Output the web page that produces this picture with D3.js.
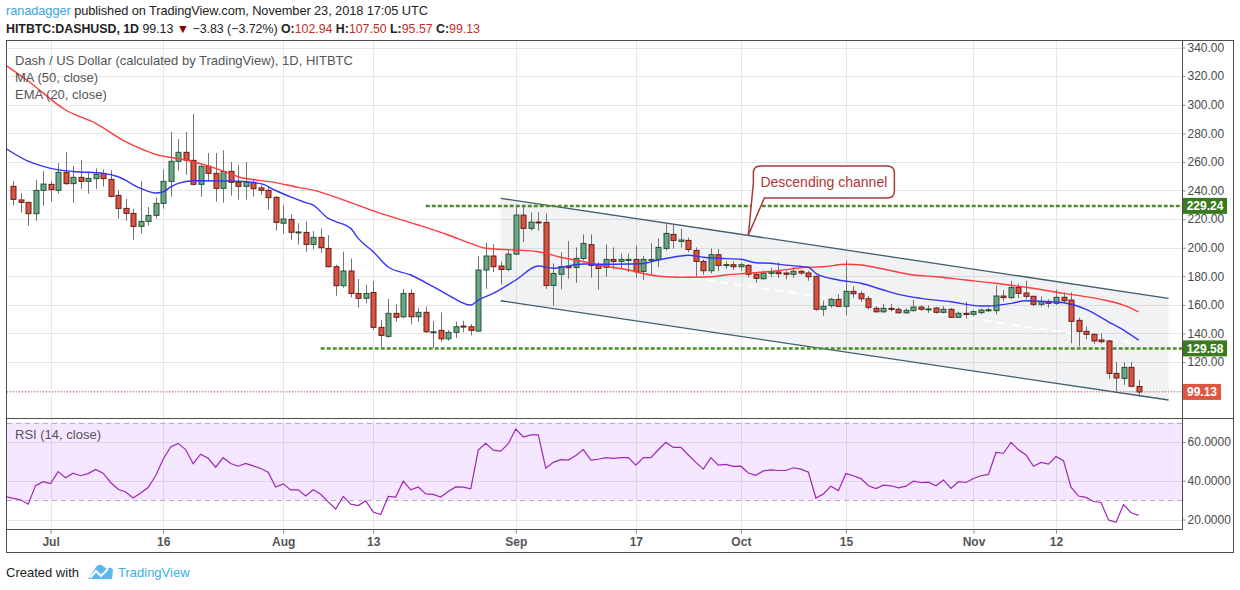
<!DOCTYPE html>
<html>
<head>
<meta charset="utf-8">
<script src="https://cdn.jsdelivr.net/npm/d3@7"></script>
<style>
  body { margin: 0; background: #fff; }
  svg { display: block; font-family: "Liberation Sans", Arial, sans-serif; }
</style>
</head>
<body>
<svg id="chart" width="1240" height="590"></svg>
<script>
// date, open, high, low, close
const candles = [
  ["2018-06-26", 242.9, 246.6, 229.4, 233.8], ["2018-06-27", 233.4, 238.3, 224.5, 231.7],
  ["2018-06-28", 231.7, 231.9, 215.4, 223.8], ["2018-06-29", 223.8, 247.3, 218.9, 240.1],
  ["2018-06-30", 240.1, 253.6, 229.4, 244.5], ["2018-07-01", 244.3, 246.6, 232.2, 240.6],
  ["2018-07-02", 240.1, 259.2, 237.8, 252.7], ["2018-07-03", 252.7, 266.9, 243.9, 244.8],
  ["2018-07-04", 244.8, 257.1, 231.5, 249.2], ["2018-07-05", 249.2, 261.3, 241.1, 246.4],
  ["2018-07-06", 246.4, 253.2, 237.8, 248.5], ["2018-07-07", 248.3, 255.5, 241.1, 251.3],
  ["2018-07-08", 252.0, 254.8, 242.7, 248.3], ["2018-07-09", 247.8, 254.1, 235.2, 235.9],
  ["2018-07-10", 236.6, 240.1, 220.3, 227.5], ["2018-07-11", 227.5, 234.1, 218.9, 224.0],
  ["2018-07-12", 224.0, 227.1, 205.6, 214.9], ["2018-07-13", 214.9, 246.6, 209.8, 218.4],
  ["2018-07-14", 218.4, 228.5, 215.4, 222.6], ["2018-07-15", 222.6, 235.2, 220.3, 231.0],
  ["2018-07-16", 231.0, 254.8, 227.3, 246.4], ["2018-07-17", 246.4, 280.9, 235.7, 260.4],
  ["2018-07-18", 260.4, 276.0, 253.9, 266.7], ["2018-07-19", 266.7, 280.9, 251.1, 261.1],
  ["2018-07-20", 261.1, 293.5, 243.4, 244.3], ["2018-07-21", 244.3, 257.8, 235.7, 256.9],
  ["2018-07-22", 256.9, 266.2, 246.4, 252.0], ["2018-07-23", 252.0, 266.2, 232.2, 241.5],
  ["2018-07-24", 241.5, 268.1, 231.5, 253.4], ["2018-07-25", 253.4, 259.9, 236.4, 245.7],
  ["2018-07-26", 245.7, 257.8, 233.6, 242.9], ["2018-07-27", 242.9, 259.9, 233.6, 246.0],
  ["2018-07-28", 245.7, 248.0, 235.7, 241.3], ["2018-07-29", 241.8, 243.9, 237.1, 240.1],
  ["2018-07-30", 240.1, 243.2, 226.6, 235.0], ["2018-07-31", 235.2, 236.2, 211.9, 217.7],
  ["2018-08-01", 217.1, 229.6, 209.8, 220.1], ["2018-08-02", 219.8, 223.3, 205.6, 210.8],
  ["2018-08-03", 210.8, 217.0, 202.1, 211.0], ["2018-08-04", 210.7, 218.4, 197.2, 202.3],
  ["2018-08-05", 202.3, 211.6, 198.8, 207.2], ["2018-08-06", 207.2, 213.5, 196.5, 200.0],
  ["2018-08-07", 199.5, 208.8, 186.2, 186.7], ["2018-08-08", 186.7, 188.0, 166.4, 173.4],
  ["2018-08-09", 173.4, 197.2, 172.0, 183.7], ["2018-08-10", 183.7, 192.5, 165.3, 168.0],
  ["2018-08-11", 168.0, 178.1, 158.0, 164.6], ["2018-08-12", 164.6, 173.9, 161.1, 168.0],
  ["2018-08-13", 168.7, 176.7, 142.4, 144.3], ["2018-08-14", 144.3, 149.4, 130.7, 138.7],
  ["2018-08-15", 138.0, 164.1, 137.0, 154.1], ["2018-08-16", 154.1, 160.3, 148.2, 151.3],
  ["2018-08-17", 151.7, 171.1, 150.6, 168.0], ["2018-08-18", 168.0, 170.8, 146.4, 151.7],
  ["2018-08-19", 151.7, 158.0, 148.2, 154.8], ["2018-08-20", 154.8, 158.7, 140.5, 141.2],
  ["2018-08-21", 141.0, 148.7, 130.0, 141.2], ["2018-08-22", 142.2, 154.8, 134.2, 136.3],
  ["2018-08-23", 136.3, 142.4, 134.9, 140.8], ["2018-08-24", 140.8, 148.2, 136.8, 144.7],
  ["2018-08-25", 145.2, 148.9, 141.0, 144.5], ["2018-08-26", 144.7, 146.6, 138.7, 142.2],
  ["2018-08-27", 141.7, 194.2, 141.0, 184.4], ["2018-08-28", 184.4, 203.5, 171.3, 194.2],
  ["2018-08-29", 194.2, 202.5, 183.0, 186.7], ["2018-08-30", 187.2, 190.2, 174.3, 184.8],
  ["2018-08-31", 184.8, 198.3, 183.5, 195.5], ["2018-09-01", 195.5, 229.8, 195.0, 222.8],
  ["2018-09-02", 222.8, 229.8, 203.9, 213.5], ["2018-09-03", 213.5, 224.7, 211.9, 217.9],
  ["2018-09-04", 218.0, 224.7, 211.9, 217.5], ["2018-09-05", 217.7, 224.0, 171.3, 173.6],
  ["2018-09-06", 173.6, 189.0, 159.4, 182.0], ["2018-09-07", 181.4, 196.7, 170.9, 186.7],
  ["2018-09-08", 187.0, 204.7, 178.3, 186.0], ["2018-09-09", 186.2, 200.2, 175.5, 192.5],
  ["2018-09-10", 192.5, 209.3, 191.0, 203.0], ["2018-09-11", 202.1, 209.3, 179.0, 187.6],
  ["2018-09-12", 187.6, 189.7, 170.6, 185.5], ["2018-09-13", 186.2, 202.3, 179.5, 191.8],
  ["2018-09-14", 191.8, 200.2, 184.9, 190.4], ["2018-09-15", 190.4, 196.0, 185.5, 191.8],
  ["2018-09-16", 191.1, 196.0, 183.0, 191.8], ["2018-09-17", 191.8, 201.4, 179.0, 183.2],
  ["2018-09-18", 183.4, 194.2, 177.4, 191.8], ["2018-09-19", 191.5, 203.3, 181.1, 191.8],
  ["2018-09-20", 191.8, 206.5, 186.3, 200.2], ["2018-09-21", 199.5, 216.5, 198.0, 210.0],
  ["2018-09-22", 209.3, 215.9, 199.3, 205.1], ["2018-09-23", 204.4, 213.1, 200.0, 205.4],
  ["2018-09-24", 205.1, 207.2, 197.0, 198.8], ["2018-09-25", 198.1, 200.2, 179.0, 190.4],
  ["2018-09-26", 190.4, 191.8, 181.1, 183.9], ["2018-09-27", 183.9, 199.5, 182.0, 195.1],
  ["2018-09-28", 195.1, 199.1, 183.5, 187.6], ["2018-09-29", 187.8, 190.5, 185.0, 188.2],
  ["2018-09-30", 188.1, 190.4, 184.4, 186.7], ["2018-10-01", 186.7, 189.5, 183.9, 188.1],
  ["2018-10-02", 187.6, 188.5, 179.0, 181.4], ["2018-10-03", 181.4, 182.5, 175.5, 178.6],
  ["2018-10-04", 178.3, 183.9, 177.9, 182.3], ["2018-10-05", 182.0, 185.8, 179.3, 183.0],
  ["2018-10-06", 183.0, 189.7, 178.8, 181.8], ["2018-10-07", 182.3, 183.9, 177.9, 181.4],
  ["2018-10-08", 181.4, 186.3, 179.0, 183.5], ["2018-10-09", 183.5, 184.4, 181.0, 182.3],
  ["2018-10-10", 182.3, 183.9, 176.9, 179.7], ["2018-10-11", 180.0, 180.5, 156.0, 156.9],
  ["2018-10-12", 156.9, 163.0, 152.4, 159.0], ["2018-10-13", 159.5, 165.0, 158.0, 163.9],
  ["2018-10-14", 163.9, 167.6, 158.5, 159.0], ["2018-10-15", 159.0, 191.1, 152.7, 169.5],
  ["2018-10-16", 169.5, 173.0, 165.0, 167.8], ["2018-10-17", 167.8, 169.7, 162.0, 164.3],
  ["2018-10-18", 164.3, 166.2, 156.6, 158.3], ["2018-10-19", 157.6, 159.2, 154.5, 155.2],
  ["2018-10-20", 155.2, 160.6, 154.3, 157.6], ["2018-10-21", 157.6, 160.6, 155.5, 156.9],
  ["2018-10-22", 156.9, 158.3, 153.9, 154.5], ["2018-10-23", 154.5, 157.6, 153.6, 156.2],
  ["2018-10-24", 156.0, 163.4, 155.4, 158.5], ["2018-10-25", 158.5, 159.7, 155.8, 156.9],
  ["2018-10-26", 157.0, 159.7, 154.3, 157.2], ["2018-10-27", 157.8, 158.7, 153.9, 154.8],
  ["2018-10-28", 154.8, 159.2, 154.0, 156.9], ["2018-10-29", 156.9, 157.8, 150.8, 151.3],
  ["2018-10-30", 151.3, 155.2, 150.8, 154.1], ["2018-10-31", 154.1, 162.1, 150.4, 153.3],
  ["2018-11-01", 153.4, 156.4, 152.0, 155.3], ["2018-11-02", 154.6, 157.4, 153.5, 156.4],
  ["2018-11-03", 156.3, 158.1, 155.0, 156.6], ["2018-11-04", 156.0, 173.7, 153.4, 166.2],
  ["2018-11-05", 166.2, 170.4, 162.3, 165.1], ["2018-11-06", 165.1, 176.9, 164.0, 172.1],
  ["2018-11-07", 172.1, 174.8, 164.8, 168.1], ["2018-11-08", 168.3, 176.9, 164.0, 166.0],
  ["2018-11-09", 166.0, 166.5, 159.0, 160.4], ["2018-11-10", 160.4, 166.0, 158.8, 162.5],
  ["2018-11-11", 162.5, 163.9, 158.0, 161.1], ["2018-11-12", 161.1, 170.7, 160.0, 165.3],
  ["2018-11-13", 165.3, 168.8, 161.5, 162.9], ["2018-11-14", 163.4, 168.8, 133.1, 148.5],
  ["2018-11-15", 149.2, 151.1, 130.8, 141.5], ["2018-11-16", 141.5, 145.0, 135.9, 139.4],
  ["2018-11-17", 139.4, 140.1, 132.7, 134.8], ["2018-11-18", 135.5, 140.1, 133.1, 134.3],
  ["2018-11-19", 134.8, 135.5, 108.4, 112.1], ["2018-11-20", 112.1, 120.1, 99.6, 108.9],
  ["2018-11-21", 108.6, 120.1, 104.0, 116.3], ["2018-11-22", 116.3, 120.1, 102.5, 103.1],
  ["2018-11-23", 102.94, 107.50, 95.57, 99.13]
];

// MA (50, close)
const ma50 = [
  ["2018-06-25", 327.7], ["2018-06-28", 316.6], ["2018-07-03", 296.3], ["2018-07-07", 287.0],
  ["2018-07-11", 274.1], ["2018-07-15", 265.3], ["2018-07-19", 261.3], ["2018-07-23", 255.5],
  ["2018-07-26", 249.6], ["2018-07-31", 245.5], ["2018-08-03", 242.2], ["2018-08-05", 240.3],
  ["2018-08-10", 231.5], ["2018-08-14", 224.0], ["2018-08-19", 215.9], ["2018-08-23", 208.9],
  ["2018-08-26", 203.0], ["2018-08-28", 199.6], ["2018-09-01", 198.4], ["2018-09-04", 197.2],
  ["2018-09-07", 193.3], ["2018-09-10", 190.2], ["2018-09-12", 187.9], ["2018-09-16", 184.4],
  ["2018-09-19", 180.9], ["2018-09-21", 179.7], ["2018-09-24", 179.3], ["2018-09-27", 179.7],
  ["2018-09-29", 180.9], ["2018-10-02", 182.1], ["2018-10-06", 183.9], ["2018-10-09", 186.0],
  ["2018-10-12", 186.7], ["2018-10-15", 188.4], ["2018-10-17", 187.9], ["2018-10-20", 185.1],
  ["2018-10-24", 180.9], ["2018-10-27", 179.7], ["2018-10-31", 177.4], ["2018-11-04", 175.1],
  ["2018-11-08", 172.3], ["2018-11-13", 168.1], ["2018-11-18", 163.9], ["2018-11-21", 159.9],
  ["2018-11-23", 155.2]
];

// EMA (20, close)
const ema20 = [
  ["2018-06-25", 269.5], ["2018-06-28", 260.5], ["2018-07-01", 255.5], ["2018-07-04", 253.3],
  ["2018-07-08", 252.0], ["2018-07-10", 249.6], ["2018-07-13", 241.5], ["2018-07-15", 238.2],
  ["2018-07-16", 239.0], ["2018-07-17", 242.5], ["2018-07-18", 245.0], ["2018-07-20", 246.8],
  ["2018-07-25", 246.6], ["2018-07-29", 244.8], ["2018-07-31", 240.0], ["2018-08-02", 235.5],
  ["2018-08-04", 231.5], ["2018-08-05", 229.8], ["2018-08-07", 220.5], ["2018-08-08", 218.2],
  ["2018-08-10", 213.5], ["2018-08-11", 206.5], ["2018-08-13", 197.2], ["2018-08-15", 186.5],
  ["2018-08-18", 180.9], ["2018-08-21", 172.7], ["2018-08-23", 166.9], ["2018-08-26", 159.9],
  ["2018-08-27", 163.4], ["2018-08-29", 168.1], ["2018-09-01", 177.4], ["2018-09-04", 187.2],
  ["2018-09-06", 185.6], ["2018-09-07", 186.3], ["2018-09-10", 188.6], ["2018-09-12", 188.4],
  ["2018-09-16", 188.6], ["2018-09-18", 189.0], ["2018-09-20", 191.4], ["2018-09-23", 194.2],
  ["2018-09-24", 194.7], ["2018-09-26", 193.3], ["2018-09-28", 192.6], ["2018-10-01", 191.9],
  ["2018-10-03", 189.5], ["2018-10-05", 189.1], ["2018-10-07", 187.8], ["2018-10-10", 186.3],
  ["2018-10-11", 182.1], ["2018-10-14", 177.4], ["2018-10-17", 175.1], ["2018-10-20", 170.4],
  ["2018-10-22", 167.4], ["2018-10-25", 164.6], ["2018-10-29", 162.2], ["2018-11-02", 159.2],
  ["2018-11-03", 159.2], ["2018-11-06", 161.1], ["2018-11-08", 162.9], ["2018-11-11", 162.2],
  ["2018-11-13", 161.5], ["2018-11-16", 156.9], ["2018-11-19", 148.2], ["2018-11-21", 142.4],
  ["2018-11-23", 135.4]
];

// RSI (14, close), one value a day from Jun 25
const rsiStart = "2018-06-25";
const rsiValues = [
  31.9, 30.9, 30.2, 27.9, 37.5, 39.5,
  38.6, 44.7, 41.6, 43.9, 42.6, 43.7, 45.8, 43.9, 39.1, 35.6, 34.2, 31.1, 33.7, 36.5, 42.6, 51.1,
  57.4, 59.3, 56.1, 48.8, 53.7, 51.6, 47.0, 51.9, 48.9, 47.5, 48.9, 47.7, 46.3, 44.4, 36.8,
  38.4, 35.3, 35.3, 32.1, 35.3, 33.0, 29.1, 25.4, 31.9, 27.9, 27.2, 29.6, 23.9, 22.6, 31.9, 31.6,
  39.8, 35.3, 36.8, 33.2, 33.0, 31.6, 34.4, 36.8, 36.7, 35.8, 55.8, 59.3, 55.8, 55.3, 59.1,
  66.7, 62.6, 63.7, 63.7, 46.5, 49.5, 50.9, 50.7, 53.0, 56.1, 50.7, 51.1, 51.9, 51.6, 51.9, 51.9,
  48.1, 51.9, 51.9, 56.0, 59.8, 57.2, 57.2, 53.3, 49.5, 46.0, 51.9, 48.1, 48.4, 47.4,
  47.5, 44.0, 42.8, 45.1, 45.6, 45.3, 45.3, 46.7, 46.0, 44.4, 31.1, 33.2, 37.2, 34.9, 43.7, 42.6,
  41.1, 37.4, 36.0, 37.7, 37.4, 36.3, 37.2, 39.8, 39.1, 39.3, 37.4, 40.4, 36.0, 39.5, 39.1,
  41.2, 42.6, 43.3, 54.6, 54.2, 59.8, 56.0, 53.3, 47.5, 49.5, 48.6, 52.5, 50.4, 36.7, 32.1, 31.4,
  29.3, 28.8, 19.8, 18.6, 27.7, 23.5, 22.1
];

const priceTicks = [100, 120, 140, 160, 180, 200, 220, 240, 260, 280, 300, 320, 340];
const rsiTicks = [20, 40, 60];
const rsiBands = [70, 30];
const timeTicks = ["2018-07-01", "2018-07-16", "2018-08-01", "2018-08-13", "2018-09-01",
  "2018-09-17", "2018-10-01", "2018-10-15", "2018-11-01", "2018-11-12"];
const timeLabels = ["Jul", "16", "Aug", "13", "Sep", "17", "Oct", "15", "Nov", "12"];

// drawings on the chart
const levels = [["2018-08-20", 229.24], ["2018-08-06", 129.58]];
const channelUpper = [["2018-08-30", 234.5], ["2018-11-27", 164.6]];
const channelLower = [["2018-08-30", 162.9], ["2018-11-27", 93.5]];
const midLine = [["2018-09-19", 183.0], ["2018-11-22", 134.0]];
const callout = ["2018-10-02", 208.9, "Descending channel"];

const parseDate = d3.utcParse("%Y-%m-%d");
const svg = d3.select("#chart");

const paneLeft = 7;
const axisX = 1182.5;
const paneTop = 41;
const paneBottom = 418;
const rsiBottom = 529;

const x = d3.scaleUtc()
  .domain([parseDate("2018-07-01"), parseDate("2018-11-12")])
  .range([50.6, 1056]);
const y = d3.scaleLinear().domain([80, 340]).range([419.3, 47.5]);
const yR = d3.scaleLinear().domain([20, 60]).range([519.5, 442]);

main();

function main() {
  const bars = candles.map(([date, open, high, low, close]) => ({
    date: parseDate(date), open, high, low, close
  }));
  const rsi = rsiValues.map((v, i) => ({
    date: d3.utcDay.offset(parseDate(rsiStart), i), value: v
  }));

  drawFrame();
  drawGrid();
  drawDrawings();
  drawCandles(bars);
  drawIndicators();
  drawCallout();
  drawRsi(rsi);
  drawAxes(bars);
  drawTexts(bars);
}

function drawFrame() {
  svg.append("rect").attr("width", 1240).attr("height", 590).attr("fill", "#fff");

  const defs = svg.append("defs");
  defs.append("clipPath").attr("id", "clip-main")
    .append("rect")
    .attr("x", paneLeft).attr("y", paneTop)
    .attr("width", axisX - paneLeft).attr("height", paneBottom - paneTop);
  defs.append("clipPath").attr("id", "clip-rsi")
    .append("rect")
    .attr("x", paneLeft).attr("y", paneBottom)
    .attr("width", axisX - paneLeft).attr("height", rsiBottom - paneBottom);
}

function drawGrid() {
  const grid = svg.append("g").attr("stroke", "#e6e6e6").attr("stroke-width", 1);

  timeTicks.forEach((t) => {
    const gx = Math.round(x(parseDate(t))) + 0.5;
    grid.append("line")
      .attr("x1", gx).attr("x2", gx)
      .attr("y1", paneTop).attr("y2", rsiBottom);
  });

  priceTicks.forEach((p) => {
    const gy = Math.round(y(p)) + 0.5;
    grid.append("line")
      .attr("x1", paneLeft).attr("x2", axisX)
      .attr("y1", gy).attr("y2", gy);
  });

  rsiTicks.forEach((v) => {
    const gy = Math.round(yR(v)) + 0.5;
    grid.append("line")
      .attr("x1", paneLeft).attr("x2", axisX)
      .attr("y1", gy).attr("y2", gy);
  });
}

function pt(d) {
  return [x(parseDate(d[0])), y(d[1])];
}

function drawDrawings() {
  const g = svg.append("g").attr("clip-path", "url(#clip-main)");

  // channel fill
  const poly = [pt(channelUpper[0]), pt(channelUpper[1]), pt(channelLower[1]), pt(channelLower[0])];
  g.append("polygon")
    .attr("points", poly.map((p) => p.join(",")).join(" "))
    .attr("fill", "#9aa6b4")
    .attr("fill-opacity", 0.15);

  [channelUpper, channelLower].forEach((line) => {
    const a = pt(line[0]);
    const b = pt(line[1]);
    g.append("line")
      .attr("x1", a[0]).attr("y1", a[1]).attr("x2", b[0]).attr("y2", b[1])
      .attr("stroke", "#3f5f6b").attr("stroke-width", 1.3);
  });

  // faint white dashed line inside the channel
  const m0 = pt(midLine[0]);
  const m1 = pt(midLine[1]);
  g.append("line")
    .attr("x1", m0[0]).attr("y1", m0[1]).attr("x2", m1[0]).attr("y2", m1[1])
    .attr("stroke", "#fff").attr("stroke-width", 2)
    .attr("stroke-dasharray", "8,6");

  // horizontal support / resistance levels
  levels.forEach(([from, price]) => {
    const ly = y(price);
    g.append("line")
      .attr("x1", x(parseDate(from))).attr("x2", axisX)
      .attr("y1", ly).attr("y2", ly)
      .attr("stroke", "#4c8b2b").attr("stroke-width", 2.5)
      .attr("stroke-dasharray", "4,2");
  });

  // last price line
  const last = candles[candles.length - 1][4];
  g.append("line")
    .attr("x1", paneLeft).attr("x2", axisX)
    .attr("y1", y(last)).attr("y2", y(last))
    .attr("stroke", "#d9534f").attr("stroke-width", 1)
    .attr("stroke-dasharray", "1,2");
}

function drawCandles(bars) {
  const g = svg.append("g").attr("clip-path", "url(#clip-main)");

  const candle = g.selectAll("g.candle")
    .data(bars)
    .join("g")
    .attr("class", "candle")
    .attr("transform", (d) => `translate(${Math.round(x(d.date)) + 0.5},0)`);

  candle.append("line")
    .attr("y1", (d) => y(d.high))
    .attr("y2", (d) => y(d.low))
    .attr("stroke", "#737375")
    .attr("stroke-width", 1);

  candle.append("rect")
    .attr("x", -2.5)
    .attr("width", 5)
    .attr("y", (d) => y(Math.max(d.open, d.close)))
    .attr("height", (d) => Math.max(1, Math.abs(y(d.open) - y(d.close))))
    .attr("fill", (d) => (d.close >= d.open ? "#6ba583" : "#d75442"))
    .attr("stroke", (d) => (d.close >= d.open ? "#225437" : "#6b1a14"))
    .attr("stroke-width", 1);
}

function drawIndicators() {
  const g = svg.append("g").attr("clip-path", "url(#clip-main)");
  const line = d3.line()
    .x((d) => x(parseDate(d[0])))
    .y((d) => y(d[1]))
    .curve(d3.curveMonotoneX);

  g.append("path")
    .attr("d", line(ma50))
    .attr("fill", "none")
    .attr("stroke", "#ff3b3b")
    .attr("stroke-width", 1.4);

  g.append("path")
    .attr("d", line(ema20))
    .attr("fill", "none")
    .attr("stroke", "#3535f5")
    .attr("stroke-width", 1.4);
}

function drawCallout() {
  const [tx, ty] = pt(callout);
  const left = tx + 5;
  const right = left + 141;
  const top = ty - 69;
  const bottom = top + 32;
  const r = 7;

  const path = d3.path();
  path.moveTo(left + r, top);
  path.lineTo(right - r, top);
  path.quadraticCurveTo(right, top, right, top + r);
  path.lineTo(right, bottom - r);
  path.quadraticCurveTo(right, bottom, right - r, bottom);
  path.lineTo(left + 11, bottom);
  path.lineTo(tx, ty);
  path.lineTo(left, bottom - 15);
  path.lineTo(left, top + r);
  path.quadraticCurveTo(left, top, left + r, top);
  path.closePath();

  svg.append("path")
    .attr("d", path.toString())
    .attr("fill", "#fff")
    .attr("stroke", "#a83a3a")
    .attr("stroke-width", 1.5);

  svg.append("text")
    .attr("x", (left + right) / 2)
    .attr("y", top + 21)
    .attr("text-anchor", "middle")
    .attr("font-size", 14)
    .attr("fill", "#b03535")
    .text(callout[2]);
}

function drawRsi(rsi) {
  const g = svg.append("g").attr("clip-path", "url(#clip-rsi)");

  g.append("rect")
    .attr("x", paneLeft).attr("width", axisX - paneLeft)
    .attr("y", yR(rsiBands[0]))
    .attr("height", yR(rsiBands[1]) - yR(rsiBands[0]))
    .attr("fill", "#9915ff")
    .attr("fill-opacity", 0.1);

  rsiBands.forEach((v) => {
    g.append("line")
      .attr("x1", paneLeft).attr("x2", axisX)
      .attr("y1", Math.round(yR(v)) + 0.5).attr("y2", Math.round(yR(v)) + 0.5)
      .attr("stroke", "#b9aebf")
      .attr("stroke-dasharray", "5,4");
  });

  const line = d3.line()
    .x((d) => x(d.date))
    .y((d) => yR(d.value));

  g.append("path")
    .attr("d", line(rsi))
    .attr("fill", "none")
    .attr("stroke", "#a026b8")
    .attr("stroke-width", 1.2);
}

function styleAxis(g) {
  g.attr("font-family", null).attr("font-size", null);
  g.select(".domain").remove();
  g.selectAll(".tick line").attr("stroke", "#888");
  g.selectAll(".tick text")
    .attr("font-size", 12)
    .attr("fill", "#4a4a4a");
}

function drawAxes(bars) {
  // pane separators and outer frame
  const frame = svg.append("g").attr("fill", "none").attr("stroke", "#4d4d4d");
  frame.append("rect")
    .attr("x", 6.5).attr("y", 40.5).attr("width", 1227).attr("height", 512);
  frame.append("line")
    .attr("x1", axisX).attr("x2", axisX).attr("y1", 40.5).attr("y2", rsiBottom + 0.5);
  frame.append("line")
    .attr("x1", 6.5).attr("x2", 1233.5).attr("y1", paneBottom + 0.5).attr("y2", paneBottom + 0.5);
  frame.append("line")
    .attr("x1", 6.5).attr("x2", axisX).attr("y1", rsiBottom + 0.5).attr("y2", rsiBottom + 0.5);

  const last = bars[bars.length - 1].close;

  // the tick label hidden under the last-price tag is left out
  const shownTicks = priceTicks.filter((p) => Math.abs(y(p) - y(last)) > 10);
  const priceAxis = svg.append("g")
    .attr("transform", `translate(${axisX},0)`)
    .call(d3.axisRight(y).tickValues(shownTicks).tickFormat(d3.format(".2f")).tickSize(3).tickPadding(2));
  styleAxis(priceAxis);

  const rsiAxis = svg.append("g")
    .attr("transform", `translate(${axisX},0)`)
    .call(d3.axisRight(yR).tickValues(rsiTicks).tickFormat(d3.format(".4f")).tickSize(3).tickPadding(2));
  styleAxis(rsiAxis);

  const timeAxis = svg.append("g")
    .attr("transform", `translate(0,${rsiBottom + 0.5})`)
    .call(d3.axisBottom(x)
      .tickValues(timeTicks.map(parseDate))
      .tickFormat((d, i) => timeLabels[i])
      .tickSize(4)
      .tickPadding(4));
  styleAxis(timeAxis);
  timeAxis.selectAll(".tick text").attr("fill", "#555").attr("font-weight", "bold");

  // price tags on the axis
  const tags = [
    [levels[0][1], "#3a7b1d", 44],
    [levels[1][1], "#3a7b1d", 44],
    [last, "#df5741", 38]
  ];
  tags.forEach(([price, color, w]) => {
    const ty = y(price);
    svg.append("rect")
      .attr("x", axisX + 0.5).attr("y", ty - 8)
      .attr("width", w).attr("height", 16)
      .attr("fill", color);
    svg.append("text")
      .attr("x", axisX + 0.5 + w / 2).attr("y", ty + 4.5)
      .attr("text-anchor", "middle")
      .attr("font-size", 12)
      .attr("font-weight", "bold")
      .attr("fill", "#fff")
      .text(d3.format(".2f")(price));
  });
}

function drawTexts(bars) {
  const lastBar = bars[bars.length - 1];
  const f2 = d3.format(".2f");

  const line1 = svg.append("text").attr("x", 6).attr("y", 15).attr("font-size", 12.8)
    .attr("textLength", 422).attr("lengthAdjust", "spacing");
  line1.append("tspan").attr("fill", "#3aa3e3").text("ranadagger");
  line1.append("tspan").attr("fill", "#222").text(" published on TradingView.com, November 23, 2018 17:05 UTC");

  const line2 = svg.append("text").attr("x", 6).attr("y", 33).attr("font-size", 12.4).attr("fill", "#222")
    .attr("textLength", 474).attr("lengthAdjust", "spacing");
  line2.append("tspan").attr("font-weight", "bold").text("HITBTC:DASHUSD, 1D");
  line2.append("tspan").text(" " + f2(lastBar.close) + " ");
  line2.append("tspan").attr("fill", "#8b0000").text("▼");
  line2.append("tspan").text(" −3.83 (−3.72%) ");
  [["O:", lastBar.open], ["H:", lastBar.high], ["L:", lastBar.low], ["C:", lastBar.close]].forEach(([k, v], i) => {
    line2.append("tspan").attr("font-weight", "bold").text((i ? " " : "") + k);
    line2.append("tspan").attr("fill", "#c0302a").text(f2(v));
  });

  const legend = svg.append("g").attr("font-size", 13).attr("fill", "#555");
  legend.append("text").attr("x", 15).attr("y", 65).text("Dash / US Dollar (calculated by TradingView), 1D, HITBTC");
  legend.append("text").attr("x", 15).attr("y", 82).text("MA (50, close)");
  legend.append("text").attr("x", 15).attr("y", 99).text("EMA (20, close)");
  legend.append("text").attr("x", 15).attr("y", 439).text("RSI (14, close)");

  // footer
  svg.append("text").attr("x", 6).attr("y", 577).attr("font-size", 13).attr("fill", "#222").text("Created with");
  const logo = svg.append("g");
  logo.append("path")
    .attr("d", "M88,579 L96,567 Q99,563 103,566 L107,569 Q111,566 113,570 L112,579 Z")
    .attr("fill", "#5ab9e8");
  logo.append("path")
    .attr("d", "M90,578 L96,571 L101,576 L108,569")
    .attr("fill", "none").attr("stroke", "#fff").attr("stroke-width", 2);
  svg.append("text").attr("x", 118).attr("y", 577).attr("font-size", 13).attr("fill", "#3bb0e4").text("TradingView");
}
</script>
</body>
</html>
